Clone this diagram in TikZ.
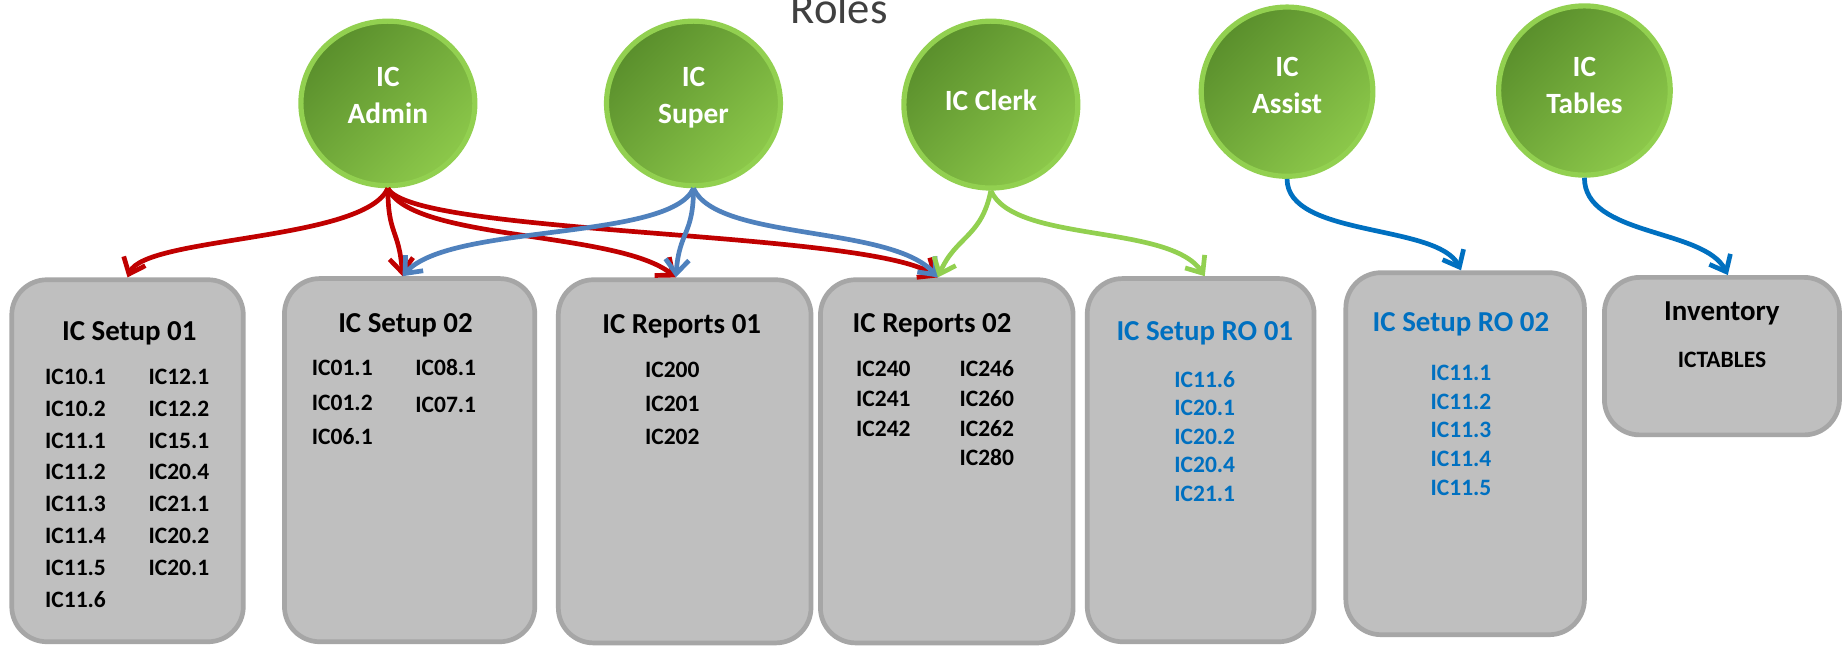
\documentclass[tikz,border=0pt]{standalone}
\usepackage{fontspec}
\setmainfont{Carlito}
\usetikzlibrary{arrows.meta,shapes.geometric}
\definecolor{redc}{HTML}{C00000}
\definecolor{blueS}{HTML}{4F81BD}
\definecolor{greenA}{HTML}{92D050}
\definecolor{blueD}{HTML}{0070C0}
\definecolor{boxfill}{HTML}{BFBFBF}
\definecolor{boxline}{HTML}{A6A6A6}
\definecolor{gdark}{HTML}{5A8F2C}
\definecolor{glight}{HTML}{8CC84A}
\definecolor{titlegray}{HTML}{404040}
\begin{document}
\begin{tikzpicture}[x=0.5pt,y=-0.5pt,
  role/.style={ellipse,draw=greenA,line width=2.2pt,top color=gdark,bottom color=glight,shading angle=45,inner sep=0pt},
  roletext/.style={text=white,font=\bfseries\fontsize{12.5}{16}\selectfont,align=center,text depth=0pt,inner sep=0pt},
  box/.style={draw=boxline,fill=boxfill,line width=2pt,rounded corners=15pt,inner sep=0pt},
  btitle/.style={font=\bfseries\fontsize{12.3}{14}\selectfont,anchor=base,inner sep=0pt},
  item/.style={font=\bfseries\fontsize{10}{12}\selectfont,anchor=base west,inner sep=0pt},
  citem/.style={font=\bfseries\fontsize{10}{12}\selectfont,anchor=base,inner sep=0pt},
  conn/.style={line width=2pt,-{Straight Barb[length=6pt,width=10pt]}}]
\useasboundingbox (0,0) rectangle (1568,551);
\fill[white] (0,0) rectangle (1568,551);
% title
\node[font=\fontsize{19}{22}\selectfont,text=titlegray,anchor=base,inner sep=0pt] (roles) at (714,20) {Roles};
% role ellipses
\node[role,minimum width=74pt,minimum height=70pt] (admin) at (330,88) {};
\node[role,minimum width=74pt,minimum height=70pt] (super) at (590,88) {};
\node[role,minimum width=74pt,minimum height=71pt] (clerk) at (843,89) {};
\node[role,minimum width=73pt,minimum height=72pt] (assist) at (1095,78) {};
\node[role,minimum width=73pt,minimum height=72pt] (tables) at (1348,77) {};
\node[roletext] (admint) at (330,81) {IC\\Admin};
\node[roletext] (supert) at (590,81) {IC\\Super};
\node[roletext] (clerkt) at (843,85) {IC Clerk};
\node[roletext] (assistt) at (1095,72.5) {IC\\Assist};
\node[roletext] (tablest) at (1348,72.5) {IC\\Tables};
% boxes
\node[box,minimum width=98.5pt,minimum height=154pt] (s01) at (108.5,392) {};
\node[box,minimum width=106.5pt,minimum height=154.5pt] (s02) at (348.5,391.5) {};
\node[box,minimum width=107.5pt,minimum height=154.5pt] (r01) at (582.5,392.5) {};
\node[box,minimum width=107.5pt,minimum height=154.5pt] (r02) at (805.5,392.5) {};
\node[box,minimum width=96.5pt,minimum height=154.5pt] (ro1) at (1021.5,391.5) {};
\node[box,minimum width=101.5pt,minimum height=154pt] (ro2) at (1246.5,386) {};
\node[box,minimum width=100pt,minimum height=67pt] (inv) at (1465,303) {};
% box texts
\node[btitle] (s01t) at (110,290) {IC Setup 01};
\foreach \t [count=\i from 0] in {IC10.1,IC10.2,IC11.1,IC11.2,IC11.3,IC11.4,IC11.5,IC11.6}
  \node[item] (s01a\i) at (38,327+27.1*\i) {\t};
\foreach \t [count=\i from 0] in {IC12.1,IC12.2,IC15.1,IC20.4,IC21.1,IC20.2,IC20.1}
  \node[item] (s01b\i) at (126,327+27.1*\i) {\t};
\node[btitle] (s02t) at (345,283) {IC Setup 02};
\node[item] (s02a0) at (265,319.5) {IC01.1};
\node[item] (s02a1) at (265,349) {IC01.2};
\node[item] (s02a2) at (265,378.5) {IC06.1};
\node[item] (s02b0) at (353,319.5) {IC08.1};
\node[item] (s02b1) at (353,351) {IC07.1};
\node[btitle] (r01t) at (580,284) {IC Reports 01};
\foreach \t [count=\i from 0] in {IC200,IC201,IC202}
  \node[citem] (r01a\i) at (572,321.5+28.5*\i) {\t};
\node[btitle] (r02t) at (793,283) {IC Reports 02};
\foreach \t [count=\i from 0] in {IC240,IC241,IC242}
  \node[item] (r02a\i) at (728,320.5+25.3*\i) {\t};
\foreach \t [count=\i from 0] in {IC246,IC260,IC262,IC280}
  \node[item] (r02b\i) at (816,320.5+25.3*\i) {\t};
\node[btitle,text=blueD] (ro1t) at (1025,290) {IC Setup RO 01};
\foreach \t [count=\i from 0] in {IC11.6,IC20.1,IC20.2,IC20.4,IC21.1}
  \node[citem,text=blueD] (ro1a\i) at (1025,329.5+24.3*\i) {\t};
\node[btitle,text=blueD] (ro2t) at (1243,282) {IC Setup RO 02};
\foreach \t [count=\i from 0] in {IC11.1,IC11.2,IC11.3,IC11.4,IC11.5}
  \node[citem,text=blueD] (ro2a\i) at (1243,323.5+24.5*\i) {\t};
\node[btitle] (invt) at (1465,273) {Inventory};
\node[citem] (inva) at (1465,312.5) {ICTABLES};
% connectors: admin (red)
\draw[conn,redc] (admin.south) .. controls +(-20,45) and +(15,-35) .. (s01.north);
\draw[conn,redc] (admin.south) .. controls +(0,40) and +(-3,-40) .. ([xshift=-3pt]s02.north);
\draw[conn,redc] (admin.south) .. controls +(20,45) and +(-50,-40) .. ([xshift=-3.75pt]r01.north);
\draw[conn,redc] (admin.south) .. controls +(20,40) and +(-60,-40) .. ([xshift=-3.75pt]r02.north);
% super (blue)
\draw[conn,blueS] (super.south) .. controls +(-20,45) and +(40,-45) .. ([xshift=-3pt]s02.north);
\draw[conn,blueS] (super.south) .. controls +(0,40) and +(3,-40) .. ([xshift=-3.75pt]r01.north);
\draw[conn,blueS] (super.south) .. controls +(20,45) and +(-40,-45) .. ([xshift=-3.75pt]r02.north);
% clerk (green)
\draw[conn,greenA] (clerk.south) .. controls +(-8,40) and +(15,-35) .. ([xshift=-3.75pt]r02.north);
\draw[conn,greenA] (clerk.south) .. controls +(20,45) and +(-30,-45) .. ([xshift=1.75pt]ro1.north);
% assist, tables
\draw[conn,blueD] (assist.south) .. controls +(0,50) and +(-20,-40) .. ([xshift=-1.75pt]ro2.north);
\draw[conn,blueD] (tables.south) .. controls +(0,50) and +(-20,-40) .. ([xshift=2.5pt]inv.north);
\end{tikzpicture}
\end{document}
